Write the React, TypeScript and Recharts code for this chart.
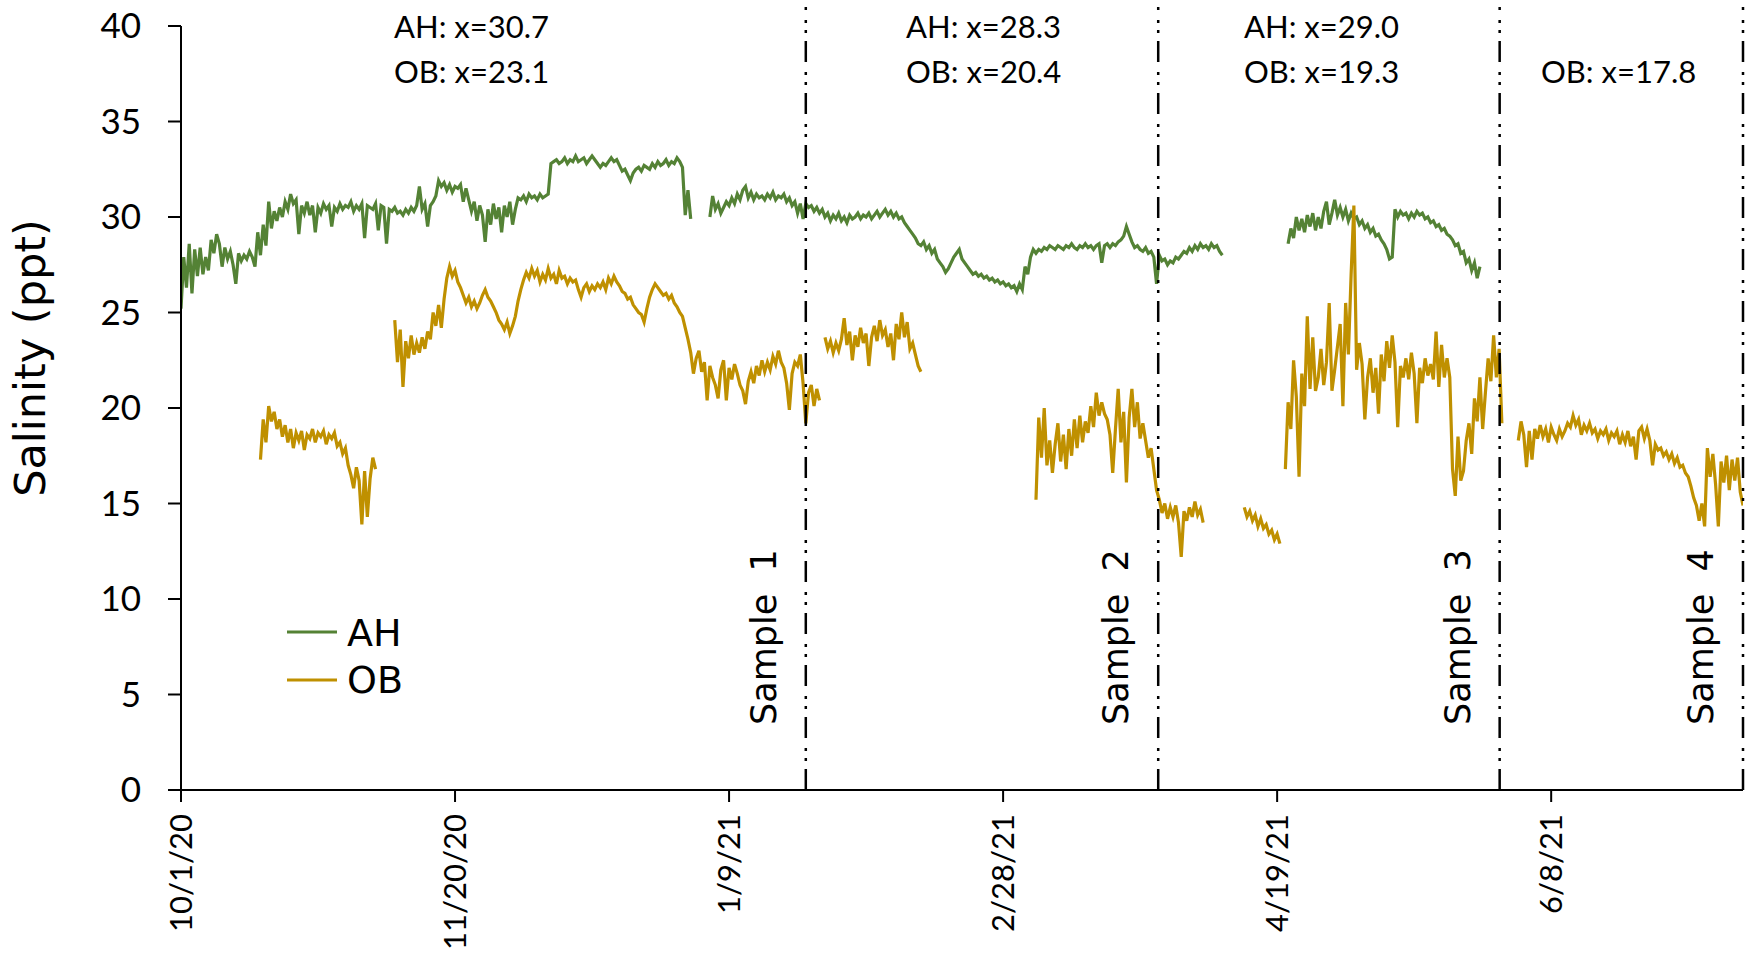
import { LineChart, Line, XAxis, YAxis, ReferenceLine } from 'recharts'

// Salinity logger records, one reading every half day.
// Day 0 = 10/1/20; each segment is a continuous deployment.
const STEP = 0.5

const ahFall = [
  25.2, 27.9, 26.3, 28.6, 26.0, 28.3, 26.9, 28.4, 27.0, 27.9,
  27.2, 28.8, 28.1, 29.1, 28.6, 27.4, 28.4, 27.8, 28.2, 27.5,
  26.5, 28.1, 27.7, 28.0, 27.8, 28.2, 27.9, 27.4, 29.2, 28.0,
  29.6, 28.5, 30.8, 29.4, 30.3, 29.8, 30.5, 30.0, 30.8, 30.4,
  31.2, 30.7, 30.9, 29.1, 30.6, 30.2, 30.8, 30.1, 30.6, 29.2,
  30.5, 30.2, 30.7, 30.4, 30.6, 29.5, 30.5, 30.3, 30.7, 30.4,
  30.6, 30.5, 30.8, 30.3, 30.6, 30.4, 30.7, 28.9, 30.6, 30.5,
  30.4, 30.7, 29.3, 30.6, 30.5, 28.6, 30.4, 30.3, 30.5, 30.2,
  30.3, 30.1, 30.4, 30.2, 30.5, 30.3, 30.6, 31.6, 30.4, 30.7,
  29.5, 30.6, 30.8, 31.1, 31.9, 31.6, 31.8, 31.4, 31.7, 31.3,
  31.6, 31.5, 31.7, 30.8, 31.5, 30.9, 30.3, 30.8, 29.8, 30.6,
  30.1, 28.7, 30.4, 29.6, 30.7, 29.9, 30.5, 29.2, 30.6, 30.0,
  30.8, 29.6, 30.4, 31.0, 30.9, 31.1, 30.8, 31.2, 31.0, 31.1,
  30.9, 31.2, 31.0, 31.1, 31.2, 32.8, 32.9, 33.0, 32.8, 32.9,
  33.1, 32.8, 33.0, 32.9, 33.2, 32.9, 33.0, 33.1, 32.8, 33.0,
  33.2, 33.0, 32.8, 32.6, 32.8, 32.7, 32.9, 33.1, 32.9, 33.0,
  32.7, 32.4, 32.5, 32.2, 31.9, 32.3, 32.5, 32.6, 32.4, 32.7,
  32.6, 32.5, 32.8, 32.6, 32.9, 32.7, 32.8, 33.0, 32.7, 32.9,
  32.8, 33.1, 32.9, 32.6, 30.1, 31.4, 29.9,
]

const ahWinter = [
  30.0, 31.1, 30.4, 30.7, 30.2, 30.5, 30.8, 30.6, 31.0, 30.7,
  31.2, 30.9, 31.4, 31.6, 31.0, 31.3, 30.9, 31.2, 31.0, 31.1,
  30.9, 31.2, 31.0, 31.3, 30.9, 31.1, 31.0, 31.2, 30.8, 31.0,
  30.6, 30.8, 30.2, 30.7, 29.9, 30.7, 30.5, 30.6, 30.3, 30.5,
  30.2, 30.4, 30.0, 30.2, 29.8, 30.1, 29.9, 30.2, 29.8, 30.0,
  29.7, 30.1, 29.9, 30.0, 30.2, 29.9, 30.1, 30.0, 30.2, 29.9,
  30.1, 30.3, 30.0, 30.2, 30.4, 30.1, 30.3, 30.0, 30.2, 29.9,
  30.0, 29.7, 29.5, 29.3, 29.1, 28.9, 28.6, 28.5, 28.7, 28.3,
  28.5, 28.1, 28.3, 27.8, 27.6, 27.4, 27.1, 27.3, 27.6, 27.9,
  28.1, 28.3, 27.8, 27.6, 27.4, 27.2, 27.0, 27.1, 26.9, 27.0,
  26.8, 26.9, 26.7, 26.8, 26.6, 26.7, 26.5, 26.6, 26.4, 26.5,
  26.3, 26.4, 26.1, 26.5, 26.2, 27.4, 27.0, 27.9, 28.3, 28.1,
  28.3, 28.2, 28.4, 28.3, 28.5, 28.4, 28.3, 28.5, 28.4, 28.3,
  28.5, 28.4, 28.6, 28.4, 28.3, 28.5, 28.4, 28.6, 28.4, 28.5,
  28.3, 28.5, 28.6, 27.6, 28.5, 28.6, 28.4, 28.6, 28.5, 28.7,
  28.8, 29.0, 29.5, 29.1, 28.7, 28.4, 28.5, 28.3, 28.2, 28.4,
  28.1, 28.2, 27.9, 26.5, 28.0, 27.7, 27.8, 27.5, 27.7, 27.6,
  27.9, 27.8, 28.0, 28.2, 28.1, 28.4, 28.2, 28.5, 28.3, 28.6,
  28.4, 28.5, 28.3, 28.6, 28.4, 28.5, 28.2, 28.0,
]

const ahSpring = [
  28.6, 29.4, 28.9, 30.0, 29.3, 29.9, 29.2, 30.1, 29.5, 30.2,
  29.3, 30.0, 29.4, 30.3, 30.8, 29.6, 30.2, 30.9, 30.1, 30.5,
  30.0, 30.4, 29.8, 30.2, 29.9, 30.0, 29.6, 29.8, 29.4, 29.6,
  29.2, 29.4, 29.0, 29.1, 28.8, 28.6, 28.3, 27.8, 27.9, 30.4,
  30.0, 30.3, 30.1, 30.2, 29.9, 30.2, 30.0, 30.3, 30.1, 30.2,
  29.9, 30.0, 29.7, 29.8, 29.5, 29.6, 29.3, 29.4, 29.1, 29.0,
  28.8, 28.5, 28.6, 28.1, 28.2, 27.6, 27.8, 27.2, 27.6, 26.8, 27.4,
]

const ahStarts = [0, 96.5, 202]

const obOct = [
  17.3, 19.4, 18.2, 20.1, 19.3, 19.8, 18.9, 19.4, 18.5, 19.1,
  18.2, 18.9, 17.9, 18.7, 18.3, 18.8, 17.8, 18.6, 18.4, 18.9,
  18.2, 18.7, 18.5, 18.8, 18.1, 18.6, 18.4, 18.7, 18.0, 18.2,
  17.6, 17.9, 17.0, 16.5, 15.8, 16.9, 16.2, 13.9, 16.7, 14.3,
  16.3, 17.4, 16.8,
]

const obNovDec = [
  24.6, 22.4, 24.1, 21.1, 23.5, 22.6, 23.8, 22.8, 23.4, 22.9,
  23.7, 23.1, 24.0, 23.6, 25.0, 24.3, 25.4, 24.2, 25.7, 26.8,
  27.4, 26.9, 27.2, 26.6, 26.3, 25.9, 25.5, 25.8, 25.3, 25.6,
  25.2, 25.5, 25.9, 26.2, 25.8, 25.6, 25.3, 25.0, 24.6, 24.4,
  24.1, 24.5, 23.9, 24.3, 24.8, 25.6, 26.2, 26.7, 27.1, 26.8,
  27.3, 26.9, 27.2, 26.6, 27.0, 26.7, 27.3, 26.8, 27.0, 26.5,
  27.2, 26.8, 26.9, 26.5, 26.8, 26.6, 26.7, 26.2, 25.8, 26.3,
  26.5, 26.1, 26.4, 26.2, 26.5, 26.3, 26.6, 26.2, 26.8, 26.5,
  26.9, 26.6, 26.4, 26.1, 26.0, 25.7, 25.8, 25.4, 25.2, 25.0,
  24.9, 24.5, 25.2, 25.8, 26.2, 26.5, 26.3, 26.1, 25.9, 26.0,
  25.7, 25.9, 25.5, 25.3, 25.0, 24.8, 24.2, 23.6, 22.9, 21.8,
  22.6, 23.0, 21.9, 22.4, 20.4, 22.2, 21.6, 21.2, 20.5, 22.0,
  22.5, 20.4, 22.1, 21.5, 22.3, 21.8, 21.2, 20.9, 20.2, 21.4,
  21.9, 21.3, 22.2, 21.7, 22.5, 21.9, 22.4, 22.0, 22.7, 22.3,
  23.0, 22.4, 22.1, 21.3, 19.9, 21.8, 22.4, 22.2, 22.8, 21.3,
  19.2, 20.8, 21.2, 20.1, 21.0, 20.4,
]

const obJan = [
  23.7, 23.1, 23.5, 22.9, 23.4, 23.0, 23.6, 24.7, 23.3, 24.0,
  22.5, 23.8, 23.2, 24.2, 23.4, 23.9, 22.2, 23.7, 24.3, 23.5,
  24.6, 23.8, 24.1, 23.2, 23.9, 22.5, 24.4, 23.6, 25.0, 23.7,
  24.5, 23.1, 23.4, 22.8, 22.2, 21.9,
]

const obMar = [
  15.2, 19.5, 17.4, 20.0, 17.0, 18.3, 16.6, 18.1, 19.2, 17.2,
  18.6, 16.8, 18.9, 17.5, 19.4, 17.9, 19.6, 18.2, 19.3, 18.7,
  20.1, 19.0, 20.8, 19.6, 20.3, 19.7, 19.4, 18.6, 16.6, 18.9,
  21.0, 18.2, 19.8, 16.1, 19.5, 21.0, 19.0, 20.3, 18.4, 19.2,
  18.3, 17.4, 17.9, 16.8, 15.7, 15.2, 14.5, 15.0, 14.2, 14.8,
  14.3, 14.9, 14.0, 12.2, 14.6, 14.1, 14.8, 14.3, 15.1, 14.4,
  14.7, 14.0,
]

const obEarlyApr = [
  14.8, 14.3, 14.6, 14.1, 14.4, 13.8, 14.2, 13.7, 13.9, 13.4,
  13.6, 13.1, 13.4, 12.9,
]

const obAprMay = [
  16.8, 20.3, 18.9, 22.5, 20.6, 16.4, 21.8, 20.1, 24.8, 21.0,
  23.7, 20.9, 21.6, 23.1, 21.2, 22.4, 25.5, 20.9, 22.0, 23.2,
  24.4, 20.1, 25.5, 22.8, 27.0, 30.6, 22.0, 23.4, 22.3, 19.4,
  21.6, 22.6, 20.8, 22.1, 19.7, 22.8, 21.4, 23.5, 22.1, 23.8,
  22.4, 19.0, 22.2, 21.6, 22.6, 21.5, 22.9, 21.8, 19.2, 22.1,
  21.3, 22.6, 21.7, 22.3, 21.5, 24.0, 21.1, 23.3, 21.6, 22.6,
  21.6, 16.8, 15.4, 18.5, 16.2, 16.7, 18.3, 19.2, 17.6, 20.5,
  19.3, 21.6, 18.9, 20.8, 22.6, 21.4, 23.8, 21.6, 23.1, 19.2,
]

const obJun = [
  18.3, 19.3, 18.6, 16.9, 18.8, 17.3, 18.9, 18.4, 19.1, 18.5,
  18.9, 18.2, 19.0, 18.6, 18.3, 18.9, 18.5, 18.8, 19.2, 19.0,
  19.6, 19.1, 19.4, 18.6, 19.1, 18.8, 19.2, 18.7, 18.9, 18.4,
  18.8, 18.6, 18.9, 18.3, 18.7, 18.5, 18.8, 18.1, 18.6, 18.2,
  18.8, 18.0, 18.5, 17.3, 18.8, 19.0, 18.4, 18.9, 18.3, 17.0,
  18.1, 17.8, 17.9, 17.5, 17.7, 17.3, 17.6, 17.1, 17.4, 16.9,
  17.0, 16.6, 16.4, 15.9, 15.3, 14.9, 14.1, 15.0, 13.8, 17.9,
  16.4, 17.6, 16.0, 13.8, 17.2, 16.1, 17.5, 15.7, 17.3, 16.2,
  17.4, 15.6, 14.9,
]

const obStarts = [14.5, 39, 117.5, 156, 194, 201.5, 244]

const tickDays = [0, 50, 100, 150, 200, 250]
const tickDates = ['10/1/20', '11/20/20', '1/9/21', '2/28/21', '4/19/21', '6/8/21']
const yTicks = [0, 5, 10, 15, 20, 25, 30, 35, 40]

const sampleDays = [114, 178.3, 240.6, 285]
const sampleNames = ['Sample  1', 'Sample  2', 'Sample  3', 'Sample  4']

// period means shown above each sampling window
const ahMeans = ['30.7', '28.3', '29.0', null]
const obMeans = ['23.1', '20.4', '19.3', '17.8']
const meanLeft = [394, 906, 1244, 1541]

const AH_COLOR = '#548235'
const OB_COLOR = '#BF9000'

const WIDTH = 1754
const HEIGHT = 957

type Point = { day: number; value: number | null }

function buildSeries(starts: number[], segments: number[][]): Point[] {
  const out: Point[] = []
  segments.forEach((vals, i) => {
    if (i > 0) out.push({ day: starts[i] - STEP / 2, value: null })
    vals.forEach((v, j) => out.push({ day: starts[i] + j * STEP, value: v }))
  })
  return out
}

const ahData = buildSeries(ahStarts, [ahFall, ahWinter, ahSpring])
const obData = buildSeries(obStarts, [obOct, obNovDec, obJan, obMar, obEarlyApr, obAprMay, obJun])

const calibri = 'Lato, "Liberation Sans", sans-serif'
const gothic = '"DejaVu Sans", sans-serif'

function DateTick(props: any) {
  const { x, y, payload } = props
  const label = tickDates[tickDays.indexOf(payload.value)]
  return (
    <text
      x={x}
      y={y}
      dy="0.36em"
      transform={`rotate(-90, ${x}, ${y})`}
      textAnchor="end"
      fontSize={31}
      fontFamily={calibri}
      fill="#000"
    >
      {label}
    </text>
  )
}

function sampleLabel(name: string) {
  return (props: any) => {
    const vb = props.viewBox || {}
    const lx = (vb.x ?? vb.x1) - 30
    const ly = 725
    return (
      <text
        x={lx}
        y={ly}
        transform={`rotate(-90, ${lx}, ${ly})`}
        textAnchor="start"
        fontSize={35}
        fontFamily={gothic}
        fill="#000"
        style={{ whiteSpace: 'pre' }}
      >
        {name}
      </text>
    )
  }
}

export default function App() {
  return (
    <div style={{ position: 'absolute', left: 0, top: 0, width: WIDTH, height: HEIGHT, background: '#fff' }}>
      <LineChart width={WIDTH} height={HEIGHT} margin={{ top: 26, right: 11, bottom: 0, left: 0 }}>
        <XAxis
          type="number"
          dataKey="day"
          domain={[0, 285]}
          ticks={tickDays}
          tick={<DateTick />}
          tickSize={12}
          tickMargin={12}
          height={167}
          stroke="#000"
          strokeWidth={2}
          allowDataOverflow
        />
        <YAxis
          type="number"
          domain={[0, 40]}
          ticks={yTicks}
          tickSize={13}
          tickMargin={27}
          width={181}
          stroke="#000"
          strokeWidth={2}
          tick={{ fill: '#000', fontSize: 35, fontFamily: calibri }}
        />
        <Line
          data={ahData}
          dataKey="value"
          type="linear"
          stroke={AH_COLOR}
          strokeWidth={3.2}
          strokeLinejoin="miter"
          dot={false}
          activeDot={false}
          connectNulls={false}
          isAnimationActive={false}
        />
        <Line
          data={obData}
          dataKey="value"
          type="linear"
          stroke={OB_COLOR}
          strokeWidth={3.2}
          strokeLinejoin="miter"
          dot={false}
          activeDot={false}
          connectNulls={false}
          isAnimationActive={false}
        />
        {sampleDays.map((d, i) => (
          <ReferenceLine
            key={d}
            segment={[{ x: d, y: 0 }, { x: d, y: 41 }]}
            ifOverflow="visible"
            stroke="#000"
            strokeWidth={2.5}
            strokeDasharray="21 8 3 7 3 10"
            label={sampleLabel(sampleNames[i])}
          />
        ))}
      </LineChart>

      <svg
        width={WIDTH}
        height={HEIGHT}
        style={{ position: 'absolute', left: 0, top: 0, pointerEvents: 'none' }}
      >
        <text
          x={45}
          y={358}
          transform="rotate(-90, 45, 358)"
          textAnchor="middle"
          fontSize={43}
          fontFamily={gothic}
          fill="#000"
        >
          Salinity (ppt)
        </text>

        {meanLeft.map((x, i) => (
          <g key={x} fontSize={31} fontFamily={calibri} fill="#000">
            {ahMeans[i] && <text x={x} y={38}>{`AH: x=${ahMeans[i]}`}</text>}
            <text x={x} y={83}>{`OB: x=${obMeans[i]}`}</text>
          </g>
        ))}

        <line x1={287} x2={337} y1={632} y2={632} stroke={AH_COLOR} strokeWidth={3} />
        <text x={347} y={646} fontSize={38} fontFamily={gothic} fill="#000">AH</text>
        <line x1={287} x2={337} y1={680} y2={680} stroke={OB_COLOR} strokeWidth={3} />
        <text x={347} y={693} fontSize={38} fontFamily={gothic} fill="#000">OB</text>
      </svg>
    </div>
  )
}
